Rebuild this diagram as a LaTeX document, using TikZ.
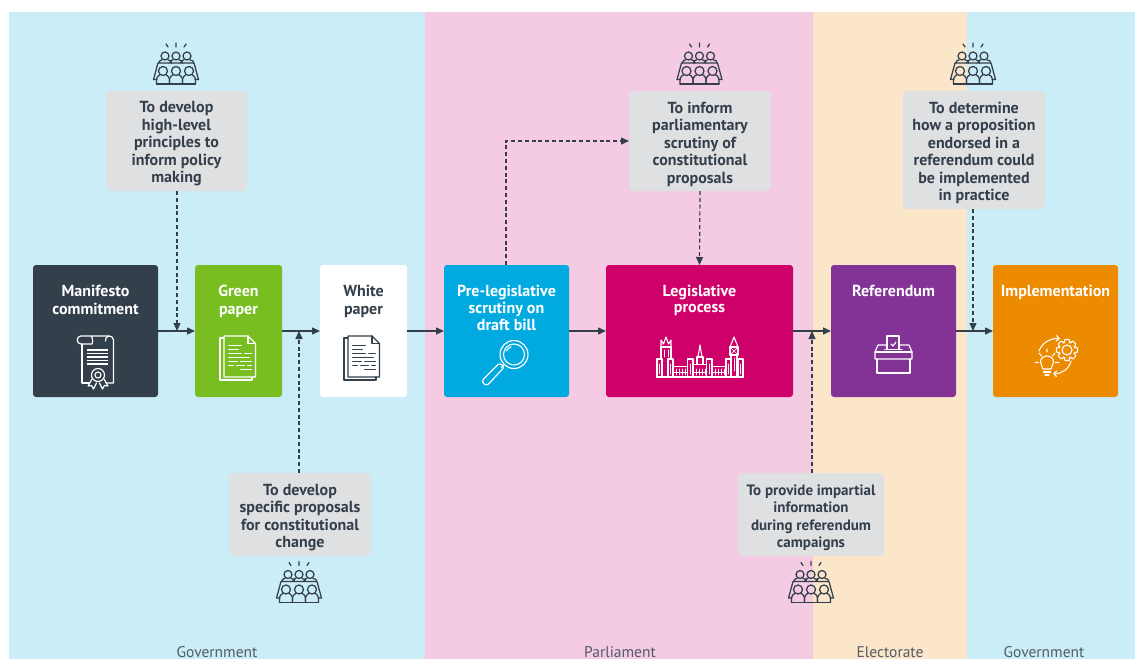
\documentclass[tikz,border=0pt]{standalone}
\usepackage{fontspec}
\setmainfont{PT Sans}
\usetikzlibrary{arrows.meta,calc}
\definecolor{ink}{HTML}{333F4B}
\definecolor{bandblue}{HTML}{CBEDF8}
\definecolor{bandpink}{HTML}{F5CBE4}
\definecolor{bandorange}{HTML}{FCE6CA}
\definecolor{boxgrey}{HTML}{DFE0E2}
\definecolor{cgreen}{HTML}{78BE20}
\definecolor{ccyan}{HTML}{00A9E0}
\definecolor{cmag}{HTML}{CE0069}
\definecolor{cpurple}{HTML}{833296}
\definecolor{corange}{HTML}{EC8A00}
\tikzset{
  x=1pt,y=-1pt,
  stage/.style={rounded corners=3pt,draw=none,inner sep=0pt,outer sep=0pt},
  stagetext/.style={anchor=north,align=center,font=\fontsize{16}{17.6}\selectfont\bfseries,inner sep=0pt,text=white},
  note/.style={fill=boxgrey,rounded corners=4pt,inner sep=0pt,outer sep=0pt},
  notetext/.style={inner sep=0pt,yshift=-3pt,align=center,text=ink,font=\fontsize{16}{17.5}\selectfont\bfseries},
  flow/.style={draw=ink,line width=1.3pt,-{Triangle[length=8pt,width=7pt]}},
  dflow/.style={draw=ink,line width=1.2pt,dash pattern=on 4pt off 2.8pt,-{Triangle[length=8pt,width=7pt]}},
  bandlabel/.style={text=ink!85!white,font=\fontsize{15.5}{17}\selectfont,inner sep=0pt,anchor=base},
  ico/.style={line width=1pt,line join=round,line cap=round},
  pics/audience/.style={code={
    \begin{scope}[ico,draw=ink,line width=1.25pt]
      \draw (0,-21)--(0,-17) (-10,-20)--(-8,-17) (10,-20)--(8,-17);
      \foreach \a in {-11,0,11}{
        \draw (\a,-8) circle (4);
        \draw (\a-6.5,-1)..controls (\a-6.5,-4) and (\a-3,-4)..(\a-3,-4) (\a+3,-4)..controls (\a+6,-4) and (\a+6.5,-3)..(\a+6.5,-1);
      }
      \draw (-18,-1)--(18,-1) (-18,-1)--(-22.5,15.5)--(-19,15.5) (18,-1)--(22.5,15.5)--(19,15.5);
      \foreach \a in {-13,0,13}{
        \draw (\a,7) circle (4.5);
        \draw (\a-6.5,20)--(\a-6.5,15)..controls (\a-6.5,12) and (\a-3.5,11.5)..(\a-3,11) (\a+3,11)..controls (\a+3.5,11.5) and (\a+6.5,12)..(\a+6.5,15)--(\a+6.5,20);
      }
      \draw (-19.5,20)--(19.5,20);
    \end{scope}}},
  pics/docpages/.style={code={
    \begin{scope}[ico,draw=#1,line width=1.15pt]
      \draw (-9.5,-2)--(-13.5,-2)--(-13.5,40)--(18.5,40)--(18.5,37);
      \draw (-9.5,-4) -- (14.5,-4)--(22,3.5)--(22,37)--(-9.5,37)--cycle;
      \draw (14.5,-4)--(14.5,3.5)--(22,3.5);
      \begin{scope}[line width=.8pt]
      \draw (-5,5)--(8,5) (-5,9)--(5,9) (-5,13)--(8,13) (11,13)--(18,13)
            (-5,17)--(16,17) (-5,21)--(4,21) (7,21)--(18,21) (-5,25)--(0,25) (3,25)--(11,25) (14,25)--(18,25)
            (7,29)--(18,29);
      \end{scope}
    \end{scope}}}
}
\begin{document}
\begin{tikzpicture}
\useasboundingbox (0,0) rectangle (1135,659);
\fill[white] (0,0) rectangle (1135,659);
% bands
\fill[bandblue] (9,12) rectangle (425,659);
\fill[bandpink] (425,12) rectangle (813,659);
\fill[bandorange] (813,12) rectangle (967,659);
\fill[bandblue] (967,12) rectangle (1135,659);
\begin{scope}
\clip (0,0) rectangle (1135,659);
\node[bandlabel] (lg1) at (217,657) {Government};
\node[bandlabel] (lp) at (620,657) {Parliament};
\node[bandlabel] (le) at (890,657) {Electorate};
\node[bandlabel] (lg2) at (1044,657) {Government};
\end{scope}
% stages
\node[stage,fill=ink,minimum width=125pt,minimum height=132pt] (man) at (95.5,331) {};
\node[stage,fill=cgreen,minimum width=87pt,minimum height=132pt] (grn) at (238.5,331) {};
\node[stage,fill=white,minimum width=87pt,minimum height=132pt] (wht) at (363.5,331) {};
\node[stage,fill=ccyan,minimum width=125pt,minimum height=132pt] (pre) at (506.5,331) {};
\node[stage,fill=cmag,minimum width=187pt,minimum height=132pt] (leg) at (699.5,331) {};
\node[stage,fill=cpurple,minimum width=125pt,minimum height=132pt] (ref) at (893.5,331) {};
\node[stage,fill=corange,minimum width=125pt,minimum height=132pt] (imp) at (1055.5,331) {};
\node[stagetext] (tman) at (95.5,285) {Manifesto\\commitment};
\node[stagetext] (tgrn) at (238.5,285) {Green\\paper};
\node[stagetext,text=ink] (twht) at (363.5,285) {White\\paper};
\node[stagetext,font=\fontsize{16}{17}\selectfont\bfseries] (tpre) at (506.5,285) {Pre-legislative\\scrutiny on\\draft bill};
\node[stagetext,font=\fontsize{16}{16.4}\selectfont\bfseries] (tleg) at (699.5,285) {Legislative\\process};
\node[stagetext] (tref) at (893.5,285) {Referendum};
\node[stagetext] (timp) at (1055.5,285) {Implementation};
% notes
\node[note,minimum width=141pt,minimum height=100pt,label={[notetext]center:{To develop\\high-level\\principles to\\inform policy\\making}}] (n1) at (176.5,141) {};
\node[note,minimum width=142pt,minimum height=83pt,label={[notetext]center:{To develop\\specific proposals\\for constitutional\\change}}] (n2) at (300,514.5) {};
\node[note,minimum width=142pt,minimum height=100pt,label={[notetext]center:{To inform\\parliamentary\\scrutiny of\\constitutional\\proposals}}] (n3) at (700,141) {};
\node[note,minimum width=142pt,minimum height=118pt,label={[notetext]center:{To determine\\how a proposition\\endorsed in a\\referendum could\\be implemented\\in practice}}] (n4) at (974,150) {};
\node[note,minimum width=146pt,minimum height=83pt,label={[notetext,font=\fontsize{15}{17.5}\selectfont\bfseries]center:{To provide impartial\\information\\during referendum\\campaigns}}] (n5) at (811,514.5) {};
% coordinates on the main line
\coordinate (j1) at (177,331);
\coordinate (j2) at (299,331);
\coordinate (j3) at (812,331);
\coordinate (j4) at (973,331);
\coordinate (bend) at (506,141);
% flow
\draw[flow] (man) -- (grn);
\draw[flow] (grn) -- (wht);
\draw[flow] (wht) -- (pre);
\draw[flow] (pre) -- (leg);
\draw[flow] (leg) -- (ref);
\draw[flow] (ref) -- (imp);
\draw[dflow] (n1.south -| j1) -- (j1);
\draw[dflow] (n2.north -| j2) -- (j2);
\draw[dflow] (pre.north -| bend) -- (bend) -- (n3.west);
\draw[dflow] (n3.south) -- (leg.north);
\draw[dflow] (n4.south -| j4) -- (j4);
\draw[dflow] (n5.north -| j3) -- (j3);
% audience icons
\pic at (176,64) {audience};
\pic at (299,582.5) {audience};
\pic at (699.5,64) {audience};
\pic at (973,64) {audience};
\pic at (811,582.5) {audience};
% document icons
\pic at (233.5,340) {docpages=white};
\pic at (357.5,340) {docpages=ink};
% scroll
\begin{scope}[ico,draw=white,line width=1.15pt]
  \draw (109,336)--(81,336)..controls (76,336) and (76,344)..(81,344)--(92,344)..controls (93,342) and (93,338)..(91,336);
  \draw (82,344)--(82,383)--(89,383);
  \draw (106,383)--(113.5,383)--(113.5,340)..controls (113.5,337) and (111,336)..(109,336)..controls (106,336) and (105.5,339)..(105.5,341);
  \foreach \y in {350,353.5,357,360.5,364} \draw[line cap=butt,line width=1.2pt] (87,\y)--(108,\y);
  \draw (98,375) circle (6.5) (98,375) circle (3);
  \draw (92,379)--(88,386)--(91.5,385.5)--(93.5,389)--(96.5,383);
  \draw (104,379)--(108,386)--(104.5,385.5)--(102.5,389)--(99.5,383);
\end{scope}
% magnifier
\begin{scope}[ico,draw=white,line width=1.15pt]
  \draw (514,354.5) circle (14) (514,354.5) circle (10.5);
  \draw (504,365)--(501.5,367.5);
  \draw (503,368.5)--(488.5,384)..controls (485.5,387) and (480.5,382)..(483.5,379)--(498,364.5)..controls (500,362.5) and (505,366.5)..(503,368.5);
  \draw (506.5,351)..controls (507,349) and (509,347.5)..(511,347);
\end{scope}
% parliament
\begin{scope}[ico,draw=white,line width=1.1pt]
  \draw (656.5,377)--(743.5,377);
  \foreach \a/\b in {657/662,668/673,687.5/693,706.5/712,726/731,738/743}{
    \draw (\a,377)--(\a,359)--(\b,359)--(\b,377);
    \draw[line width=.7pt] ({(\a+\b)/2},364)--({(\a+\b)/2},374);
  }
  % left tower
  \draw (661,359)--(661,347)--(671,347)--(671,359);
  \draw (661,347)--(661,340)--(663.5,344)--(666,337)--(668.5,344)--(671,340)--(671,347);
  \draw[line width=.8pt] (664,350)--(664,357) (668,350)--(668,357);
  % central tower
  \draw (697,364)--(697,357)--(703,357)--(703,364);
  \draw (698,357)--(700,345)--(702,357);
  \draw (693,364.5)--(706.5,364.5);
  % walls
  \draw (673,366.5)--(687.5,366.5) (712,366.5)--(726,366.5);
  \foreach \x in {676,679,682,685,696,699,702,705,715,718,721,724}
    \draw[line width=.7pt] (\x,369)--(\x,375);
  \draw[line width=.6pt] (674,372)--(687,372) (713,372)--(725,372) (694,372)--(706,372);
  % clock tower
  \draw (730,355)--(730,347)--(738,347)--(738,355)--cycle;
  \draw (730,347)--(734,337)--(738,347);
  \draw[line width=.7pt] (731,348)--(737,354) (737,348)--(731,354);
  \draw (731,355)--(731,377) (737,355)--(737,377);
  \draw[line width=.8pt] (734,358)--(734,371);
\end{scope}
% ballot box
\begin{scope}[ico,draw=white,line width=1.15pt]
  \draw (887,349)--(887,336)--(899,336)--(899,349);
  \draw (885,349.5)--(902,349.5);
  \draw (891,344)--(893,346)--(896,342);
  \draw (887,345)--(878,345)--(875,352)--(875,359)--(912,359)--(912,352)--(909,345)--(899,345);
  \draw (875,352)--(912,352);
  \draw (877,359)--(877,373)--(910,373)--(910,359);
\end{scope}
% implementation
\begin{scope}[ico,draw=white,line width=1.1pt]
  \begin{scope}[shift={(1067,350)}]
    \draw (0,0) circle (5);
    \foreach \a in {0,45,...,315}{
      \draw[rotate=\a] (7.6,-3)--(10.5,-2)--(10.5,2)--(7.6,3);
    }
    \foreach \a in {0,45,...,315}{
      \draw[rotate=\a+22.5] (8,-1)--(8,1);
    }
  \end{scope}
  \draw (1043,369)..controls (1043,366) and (1040.5,365.5)..(1040.5,362)..controls (1040.5,354) and (1053.5,354)..(1053.5,362)..controls (1053.5,365.5) and (1051,366)..(1051,369)--cycle;
  \draw (1043.5,372)--(1050.5,372) (1045,375)--(1049,375);
  \draw (1047,349)--(1047,352) (1035,362.5)--(1038.5,362.5) (1055.5,362.5)--(1059,362.5) (1039,353)--(1041.5,356) (1055,353)--(1052.5,356);
  \draw[-{Straight Barb[length=3pt,width=6pt]}] (1039,351)..controls (1042,343) and (1050,338)..(1060,338.5);
  \draw[-{Straight Barb[length=3pt,width=6pt]}] (1071,361)..controls (1069,369) and (1062,374)..(1053,373.5);
\end{scope}
\end{tikzpicture}
\end{document}
